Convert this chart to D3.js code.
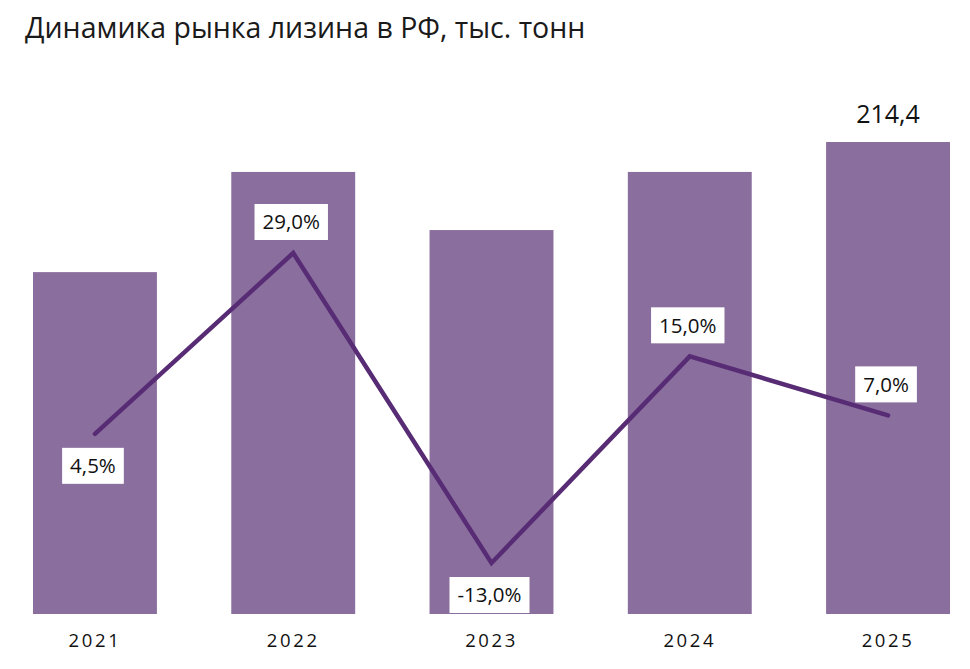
<!DOCTYPE html>
<html>
<head>
<meta charset="utf-8">
<script src="https://cdn.jsdelivr.net/npm/d3@7"></script>
<style>
  body { margin: 0; background: #fff; }
  svg { font-family: "Open Sans", sans-serif; }
</style>
</head>
<body>
<svg id="chart"></svg>
<script>
// data
const years = ["2021", "2022", "2023", "2024", "2025"];
const volume = [155.3, 200.8, 174.4, 200.8, 214.4];   // тыс. тонн
const growth = [4.5, 29.0, -13.0, 15.0, 7.0];         // %
const labelSide = ["below", "above", "below", "above", "above"];

const width = 970;
const height = 669;
const svg = d3.select("#chart").attr("width", width).attr("height", height);

// comma decimal, plain hyphen for negatives
const fmt = v => d3.format(".1f")(v).replace(".", ",").replace("\u2212", "-");

// title
svg.append("text")
    .attr("x", 25)
    .attr("y", 38)
    .attr("font-size", 28.5)
    .attr("fill", "#1a1a1a")
    .text("Динамика рынка лизина в РФ, тыс. тонн");

const x = d3.scaleBand()
    .domain(years)
    .range([33, 950])
    .paddingInner(0.375)
    .paddingOuter(0);

const y = d3.scaleLinear()
    .domain([0, 214.4])
    .range([614, 142]);

const yp = d3.scaleLinear()
    .domain([-13, 29])
    .range([563, 253]);

// bars
svg.selectAll("rect.bar")
    .data(years)
    .join("rect")
    .attr("class", "bar")
    .attr("x", d => x(d))
    .attr("y", (d, i) => y(volume[i]))
    .attr("width", x.bandwidth())
    .attr("height", (d, i) => y(0) - y(volume[i]))
    .attr("fill", "#8a6f9e");

// value label only on the last bar
const last = years.length - 1;
svg.append("text")
    .attr("x", x(years[last]) + x.bandwidth() / 2)
    .attr("y", y(volume[last]) - 19)
    .attr("text-anchor", "middle")
    .attr("font-size", 25)
    .attr("fill", "#111")
    .text(fmt(volume[last]));

// x axis labels
const xAxis = svg.append("g")
    .attr("transform", `translate(0,${y(0)})`)
    .call(d3.axisBottom(x).tickSize(0).tickPadding(20));
xAxis.select(".domain").remove();
xAxis.selectAll("text")
    .attr("font-family", "Open Sans, sans-serif")
    .attr("font-size", 18.5)
    .attr("letter-spacing", 2.6)
    .attr("fill", "#111");

// growth line
const line = d3.line()
    .x((d, i) => x(years[i]) + x.bandwidth() / 2)
    .y(d => yp(d));

svg.append("path")
    .datum(growth)
    .attr("d", line)
    .attr("fill", "none")
    .attr("stroke", "#582c75")
    .attr("stroke-width", 4.5)
    .attr("stroke-linecap", "round")
    .attr("stroke-linejoin", "miter");

// percent labels in white boxes
const lab = svg.selectAll("g.plabel")
    .data(growth)
    .join("g")
    .attr("class", "plabel")
    .attr("transform", (d, i) => {
        const cx = x(years[i]) + x.bandwidth() / 2 - 2;
        const cy = labelSide[i] === "above" ? yp(d) - 31 : yp(d) + 32;
        return `translate(${cx},${cy})`;
    });

lab.append("text")
    .attr("text-anchor", "middle")
    .attr("dy", "0.35em")
    .attr("font-size", 20.5)
    .attr("fill", "#111")
    .text(d => fmt(d) + "%");

lab.each(function() {
    const g = d3.select(this);
    const bb = g.select("text").node().getBBox();
    g.insert("rect", "text")
        .attr("x", bb.x - 8)
        .attr("y", -18)
        .attr("width", bb.width + 16)
        .attr("height", 36)
        .attr("fill", "#fff");
});
</script>
</body>
</html>
